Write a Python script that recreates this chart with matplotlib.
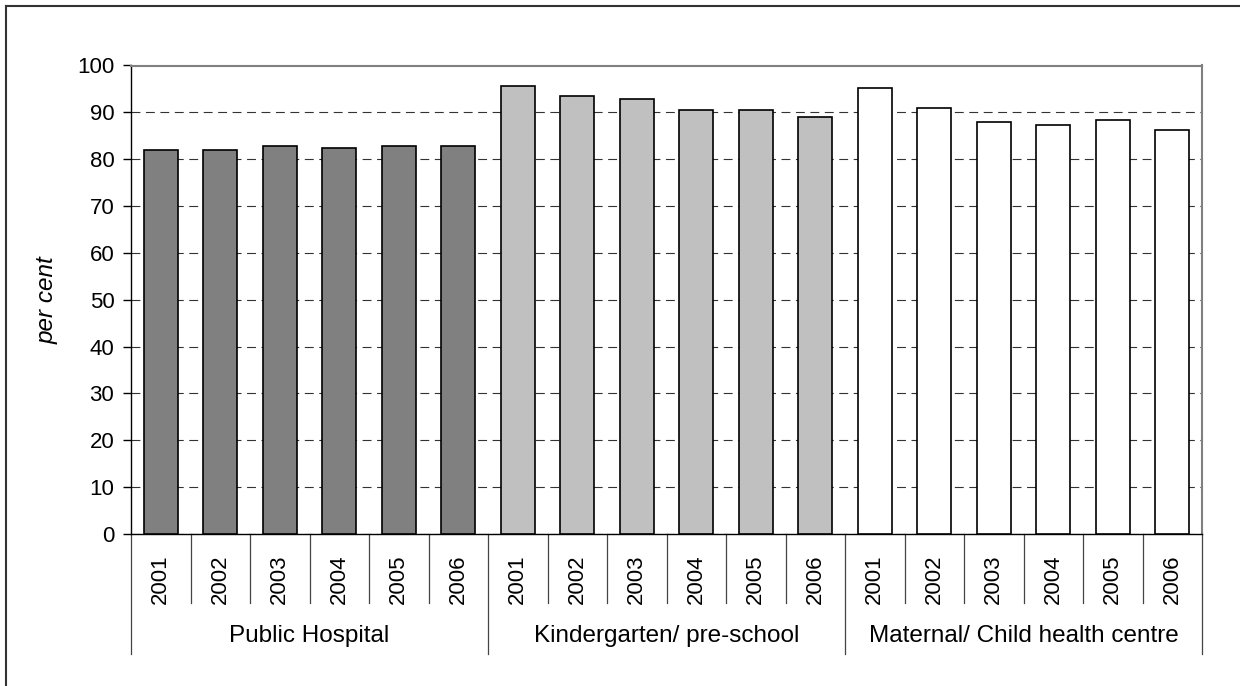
import matplotlib
matplotlib.use("Agg")
import matplotlib.pyplot as plt
import matplotlib.transforms as mtransforms
import numpy as np

plt.rcParams['font.family'] = ['Liberation Sans', 'DejaVu Sans']

years = ['2001', '2002', '2003', '2004', '2005', '2006']
groups = ['Public Hospital', 'Kindergarten/ pre-school', 'Maternal/ Child health centre']
hospital = [82.0, 82.0, 82.8, 82.4, 82.8, 82.8]
kindergarten = [95.6, 93.5, 92.8, 90.4, 90.4, 89.1]
maternal = [95.2, 90.9, 88.0, 87.2, 88.4, 86.3]
colors = ['#808080', '#c0c0c0', '#ffffff']

fig = plt.figure(figsize=(12.4, 6.86), dpi=100)
ax = fig.add_axes([131/1240, 1-534/686, (1202-131)/1240, (534-65.5)/686])

n = len(years)
for g, (vals, col) in enumerate(zip([hospital, kindergarten, maternal], colors)):
    x = np.arange(n) + g*n
    ax.bar(x, vals, width=0.57, color=col, edgecolor='black', linewidth=1.2, zorder=3)

ax.set_xlim(-0.5, 3*n - 0.5)
ax.set_ylim(0, 100)
ax.set_yticks(range(0, 101, 10))
ax.tick_params(axis='y', direction='out', length=6, width=1, labelsize=16, pad=6)
ax.set_xticks([])
ax.yaxis.grid(True, linestyle=(0, (8, 5)), color='#333333', linewidth=0.8, zorder=0)
ax.set_axisbelow(True)
ax.set_ylabel('per cent', fontsize=17.5, style='italic', labelpad=13)

for s in ['top', 'right']:
    ax.spines[s].set_color('#808080')
    ax.spines[s].set_linewidth(1.5)
for s in ['left', 'bottom']:
    ax.spines[s].set_color('black')
    ax.spines[s].set_linewidth(1.0)

trans = mtransforms.blended_transform_factory(ax.transData, ax.transAxes)
h = 468.5
for i in range(3*n + 1):
    bottom = -(654-534)/h if i % n == 0 else -(603-534)/h
    ax.plot([i - 0.5, i - 0.5], [0, bottom], color='#444444', lw=0.9,
            transform=trans, clip_on=False)
for i in range(3*n):
    ax.text(i, -(579-534)/h, years[i % n], rotation=90, ha='center', va='center',
            fontsize=16, transform=trans)
for g, name in enumerate(groups):
    ax.text(g*n + (n-1)/2, -(636-534)/h, name, ha='center', va='center',
            fontsize=17.5, transform=trans)

# outer frame (left and top edges)
fig.add_artist(plt.Line2D([6/1240, 6/1240], [0, 1-6/686], color='#333333', lw=1.5,
                          transform=fig.transFigure))
fig.add_artist(plt.Line2D([6/1240, 1], [1-6/686, 1-6/686], color='#333333', lw=1.5,
                          transform=fig.transFigure))

fig.savefig('out.png', dpi=100)
